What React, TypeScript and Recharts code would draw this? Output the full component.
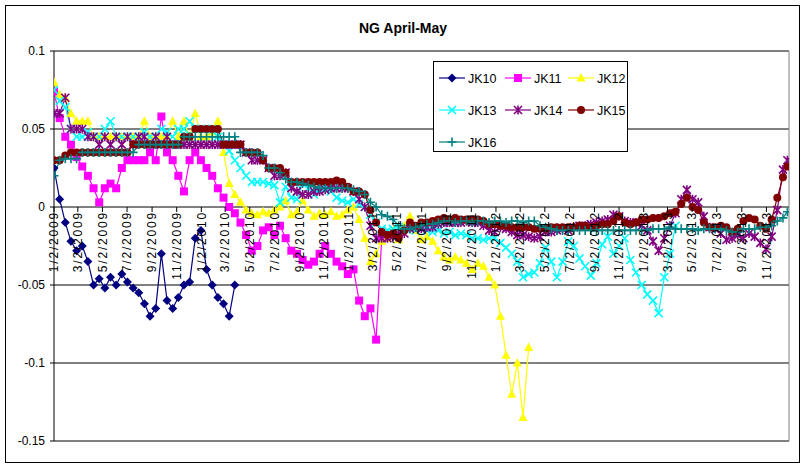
import React from 'react';
import { LineChart, Line, XAxis, YAxis, CartesianGrid, ReferenceLine, Legend } from 'recharts';

const dates = [
  '2009-01-02','2009-01-16','2009-01-30','2009-02-13','2009-02-27','2009-03-13','2009-03-27','2009-04-10','2009-04-24','2009-05-08',
  '2009-05-22','2009-06-05','2009-06-19','2009-07-03','2009-07-17','2009-07-31','2009-08-14','2009-08-28','2009-09-11','2009-09-25',
  '2009-10-09','2009-10-23','2009-11-06','2009-11-20','2009-12-04','2009-12-18',
  '2010-01-01','2010-01-15','2010-01-29','2010-02-12','2010-02-26','2010-03-12','2010-03-26','2010-04-09','2010-04-23','2010-05-07',
  '2010-05-21','2010-06-04','2010-06-18','2010-07-02','2010-07-16','2010-07-30','2010-08-13','2010-08-27','2010-09-10','2010-09-24',
  '2010-10-08','2010-10-22','2010-11-05','2010-11-19','2010-12-03','2010-12-17','2010-12-31',
  '2011-01-14','2011-01-28','2011-02-11','2011-02-25','2011-03-11','2011-03-25','2011-04-08','2011-04-22','2011-05-06','2011-05-20',
  '2011-06-03','2011-06-17','2011-07-01','2011-07-15','2011-07-29','2011-08-12','2011-08-26','2011-09-09','2011-09-23','2011-10-07',
  '2011-10-21','2011-11-04','2011-11-18','2011-12-02','2011-12-16','2011-12-30',
  '2012-01-13','2012-01-27','2012-02-10','2012-02-24','2012-03-09','2012-03-23','2012-04-06','2012-04-20','2012-05-04','2012-05-18',
  '2012-06-01','2012-06-15','2012-06-29','2012-07-13','2012-07-27','2012-08-10','2012-08-24','2012-09-07','2012-09-21','2012-10-05',
  '2012-10-19','2012-11-02','2012-11-16','2012-11-30','2012-12-14','2012-12-28',
  '2013-01-11','2013-01-25','2013-02-08','2013-02-22','2013-03-08','2013-03-22','2013-04-05','2013-04-19','2013-05-03','2013-05-17',
  '2013-05-31','2013-06-14','2013-06-28','2013-07-12','2013-07-26','2013-08-09','2013-08-23','2013-09-06','2013-09-20','2013-10-04',
  '2013-10-18','2013-11-01','2013-11-15','2013-11-29','2013-12-13','2013-12-24',
];

const tickLabels = [
  '1/2/2009','3/2/2009','5/2/2009','7/2/2009','9/2/2009','11/2/2009',
  '1/2/2010','3/2/2010','5/2/2010','7/2/2010','9/2/2010','11/2/2010',
  '1/2/2011','3/2/2011','5/2/2011','7/2/2011','9/2/2011','11/2/2011',
  '1/2/2012','3/2/2012','5/2/2012','7/2/2012','9/2/2012','11/2/2012',
  '1/2/2013','3/2/2013','5/2/2013','7/2/2013','9/2/2013','11/2/2013',
];

const yTicks = [-0.15, -0.1, -0.05, 0, 0.05, 0.1];
const xDomainStart = '2009-01-02';
const xDomainEnd = '2013-12-28';

const jk10 = [
  0.025, 0.005, -0.01, -0.022, -0.028, -0.025, -0.035, -0.05, -0.046, -0.052,
  -0.045, -0.05, -0.043, -0.048, -0.052, -0.055, -0.062, -0.07, -0.065, -0.03,
  -0.06, -0.065, -0.058, -0.05, -0.048, -0.02, -0.015, -0.04, -0.05, -0.058,
  -0.062, -0.07, -0.05,
];

const jk11 = [
  0.074, 0.057, 0.045, 0.04, 0.032, 0.026, 0.02, 0.012, 0.003, 0.012,
  0.015, 0.012, 0.025, 0.03, 0.03, 0.03, 0.03, 0.035, 0.03, 0.058,
  0.035, 0.03, 0.02, 0.01, 0.03, 0.035, 0.03, 0.025, 0.02, 0.012,
  0.006, 0.0, -0.004, -0.01, -0.018, -0.028, -0.025, -0.015, -0.013, -0.018,
  -0.012, -0.02, -0.028, -0.03, -0.034, -0.037, -0.035, -0.03, -0.025, -0.03,
  -0.035, -0.038, -0.043, -0.04, -0.06, -0.07, -0.065, -0.085, -0.02,
];

const jk12 = [
  0.08, 0.072, 0.07, 0.06, 0.055, 0.055, 0.055, 0.045, 0.045, 0.045,
  0.045, 0.045, 0.045, 0.045, 0.045, 0.045, 0.055, 0.045, 0.045, 0.045,
  0.045, 0.055, 0.045, 0.055, 0.045, 0.06, 0.045, 0.045, 0.048, 0.055,
  0.035, 0.015, 0.008, 0.003, -0.002, -0.004, -0.005, -0.003, -0.004, -0.002,
  0.0, 0.004, -0.005, -0.003, 0.004, -0.002, -0.006, -0.004, -0.005, -0.003,
  -0.006, -0.005, -0.002, 0.0, -0.008, -0.02, -0.035, -0.03, -0.022, -0.02,
  -0.015, -0.021, -0.012, -0.006, -0.015, -0.021, -0.019, -0.022, -0.028, -0.032,
  -0.034, -0.032, -0.034, -0.036, -0.04, -0.036, -0.038, -0.045, -0.05, -0.07,
  -0.095, -0.12, -0.1, -0.135, -0.09,
];

const jk13 = [
  0.075, 0.068, 0.064, 0.05, 0.045, 0.045, 0.048, 0.045, 0.045, 0.05,
  0.055, 0.045, 0.045, 0.045, 0.045, 0.045, 0.048, 0.045, 0.045, 0.05,
  0.048, 0.045, 0.05, 0.05, 0.055, 0.05, 0.05, 0.05, 0.05, 0.045,
  0.04, 0.036, 0.03, 0.025, 0.02, 0.016, 0.016, 0.016, 0.015, 0.014,
  0.003, 0.013, 0.006, 0.005, 0.015, 0.012, 0.008, 0.014, 0.012, 0.01,
  0.006, 0.004, 0.003, 0.005, 0.002, 0.0, -0.005, -0.01, -0.014, -0.015,
  -0.014, -0.013, -0.014, -0.013, -0.015, -0.014, -0.015, -0.016, -0.015, -0.017,
  -0.016, -0.018, -0.017, -0.018, -0.02, -0.02, -0.021, -0.02, -0.02, -0.023,
  -0.026, -0.03, -0.035, -0.045, -0.043, -0.042, -0.036, -0.026, -0.035, -0.045,
  -0.035, -0.022, -0.025, -0.033, -0.038, -0.044, -0.036, -0.024, -0.019, -0.03,
  -0.025, -0.02, -0.034, -0.042, -0.05, -0.056, -0.06, -0.068, -0.045, -0.03,
  -0.012,
];

const jk14 = [
  0.06, 0.06, 0.07, 0.05, 0.05, 0.05, 0.045, 0.045, 0.04, 0.045,
  0.04, 0.045, 0.04, 0.045, 0.04, 0.045, 0.045, 0.04, 0.045, 0.04,
  0.045, 0.04, 0.04, 0.04, 0.04, 0.04, 0.04, 0.04, 0.04, 0.04,
  0.04, 0.04, 0.04, 0.04, 0.035, 0.03, 0.03, 0.03, 0.025, 0.02,
  0.02, 0.022, 0.012, 0.01, 0.008, 0.008, 0.01, 0.01, 0.011, 0.012,
  0.012, 0.012, 0.012, 0.01, 0.005, 0.0, -0.012, -0.02, -0.02, -0.02,
  -0.019, -0.017, -0.017, -0.014, -0.013, -0.014, -0.013, -0.013, -0.011, -0.01,
  -0.01, -0.01, -0.01, -0.009, -0.01, -0.01, -0.012, -0.015, -0.016, -0.013,
  -0.014, -0.016, -0.018, -0.018, -0.019, -0.02, -0.019, -0.016, -0.016, -0.015,
  -0.014, -0.015, -0.013, -0.012, -0.012, -0.011, -0.01, -0.009, -0.008, -0.005,
  -0.006, -0.009, -0.01, -0.01, -0.012, -0.015, -0.022, -0.028, -0.02, -0.012,
  -0.004, 0.005, 0.011, 0.005, 0.003, -0.006, -0.013, -0.014, -0.017, -0.021,
  -0.02, -0.018, -0.02, -0.017, -0.019, -0.023, -0.027, -0.019, -0.002, 0.024,
  0.03,
];

const jk15 = [
  0.03, 0.03, 0.033, 0.035, 0.035, 0.035, 0.035, 0.035, 0.035, 0.035,
  0.035, 0.035, 0.035, 0.035, 0.04, 0.04, 0.04, 0.04, 0.04, 0.04,
  0.04, 0.04, 0.04, 0.045, 0.045, 0.05, 0.05, 0.05, 0.05, 0.05,
  0.04, 0.04, 0.04, 0.04, 0.035, 0.035, 0.035, 0.03, 0.025, 0.025,
  0.025, 0.022, 0.016, 0.016, 0.016, 0.016, 0.016, 0.016, 0.016, 0.016,
  0.017, 0.016, 0.013, 0.01, 0.01, 0.008, -0.002, -0.01, -0.016, -0.018,
  -0.017, -0.02, -0.015, -0.01, -0.012, -0.01, -0.01, -0.009, -0.008, -0.007,
  -0.008, -0.007, -0.008, -0.008, -0.008, -0.008, -0.009, -0.011, -0.011, -0.012,
  -0.012, -0.013, -0.013, -0.013, -0.013, -0.014, -0.014, -0.014, -0.013, -0.013,
  -0.013, -0.013, -0.013, -0.012, -0.012, -0.013, -0.012, -0.011, -0.011, -0.009,
  -0.006, -0.01, -0.011, -0.01, -0.008, -0.008, -0.007, -0.007, -0.006, -0.004,
  -0.003, 0.002, 0.006, 0.0, -0.002, -0.01, -0.013, -0.013, -0.012, -0.013,
  -0.016, -0.014, -0.009, -0.007, -0.008, -0.012, -0.014, -0.008, 0.006, 0.019,
  0.026,
];

const jk16 = [
  0.02, 0.03, 0.031, 0.031, 0.031, 0.035, 0.035, 0.035, 0.035, 0.035,
  0.035, 0.035, 0.035, 0.035, 0.035, 0.04, 0.04, 0.04, 0.04, 0.04,
  0.04, 0.04, 0.04, 0.045, 0.045, 0.045, 0.045, 0.045, 0.045, 0.045,
  0.045, 0.045, 0.045, 0.035, 0.035, 0.035, 0.035, 0.033, 0.025, 0.025,
  0.022, 0.018, 0.016, 0.016, 0.015, 0.014, 0.013, 0.012, 0.012, 0.012,
  0.012, 0.012, 0.012, 0.011, 0.01, 0.008, 0.003, 0.0, -0.005, -0.006,
  -0.008, -0.012, -0.014, -0.014, -0.013, -0.012, -0.011, -0.011, -0.01, -0.009,
  -0.009, -0.01, -0.009, -0.009, -0.01, -0.009, -0.009, -0.01, -0.009, -0.009,
  -0.01, -0.009, -0.009, -0.01, -0.009, -0.009, -0.012, -0.013, -0.014, -0.015,
  -0.015, -0.015, -0.015, -0.015, -0.015, -0.015, -0.015, -0.015, -0.015, -0.015,
  -0.015, -0.015, -0.015, -0.015, -0.015, -0.015, -0.014, -0.014, -0.014, -0.013,
  -0.014, -0.014, -0.014, -0.014, -0.015, -0.014, -0.014, -0.014, -0.014, -0.015,
  -0.016, -0.016, -0.014, -0.014, -0.014, -0.013, -0.013, -0.012, -0.009, -0.007,
  -0.003,
];

const FONT = '"Liberation Sans", Arial, sans-serif';
const W = 806;
const H = 467;
const MARGIN = { top: 51, right: 17, bottom: 0, left: 0 };
const Y_AXIS_W = 54;
const X_AXIS_H = 26;
const PLOT_TOP = MARGIN.top;
const PLOT_H = H - MARGIN.top - MARGIN.bottom - X_AXIS_H;
const Y_MIN = yTicks[0];
const Y_MAX = yTicks[yTicks.length - 1];

const isoTs = (s: string) => {
  const [y, m, d] = s.split('-').map(Number);
  return Date.UTC(y, m - 1, d);
};
const mdyTs = (s: string) => {
  const [m, d, y] = s.split('/').map(Number);
  return Date.UTC(y, m - 1, d);
};

const seriesDefs = [
  { key: 'JK10', values: jk10, color: '#000080', shape: 'diamond' },
  { key: 'JK11', values: jk11, color: '#FF00FF', shape: 'square' },
  { key: 'JK12', values: jk12, color: '#FFFF00', shape: 'triangle' },
  { key: 'JK13', values: jk13, color: '#00FFFF', shape: 'x' },
  { key: 'JK14', values: jk14, color: '#800080', shape: 'star' },
  { key: 'JK15', values: jk15, color: '#800000', shape: 'circle' },
  { key: 'JK16', values: jk16, color: '#008080', shape: 'plus' },
];

const data = dates.map((d, i) => {
  const row: Record<string, number | null> = { t: isoTs(d) };
  seriesDefs.forEach((s) => {
    row[s.key] = i < s.values.length ? s.values[i] : null;
  });
  return row;
});

const xTicks = tickLabels.map(mdyTs);
const labelByTs = new Map<number, string>(tickLabels.map((l) => [mdyTs(l), l]));

function Marker({ shape, cx, cy, color }: { shape: string; cx: number; cy: number; color: string }) {
  switch (shape) {
    case 'diamond':
      return <polygon points={`${cx},${cy - 4.5} ${cx + 4.5},${cy} ${cx},${cy + 4.5} ${cx - 4.5},${cy}`} fill={color} />;
    case 'square':
      return <rect x={cx - 4} y={cy - 4} width={8} height={8} fill={color} />;
    case 'triangle':
      return <polygon points={`${cx},${cy - 5} ${cx + 4.5},${cy + 3.5} ${cx - 4.5},${cy + 3.5}`} fill={color} />;
    case 'x':
      return (
        <path
          d={`M${cx - 4},${cy - 4}L${cx + 4},${cy + 4}M${cx - 4},${cy + 4}L${cx + 4},${cy - 4}`}
          stroke={color}
          strokeWidth={1.6}
        />
      );
    case 'star':
      return (
        <path
          d={`M${cx - 4},${cy - 4}L${cx + 4},${cy + 4}M${cx - 4},${cy + 4}L${cx + 4},${cy - 4}M${cx},${cy - 4.5}L${cx},${cy + 4.5}`}
          stroke={color}
          strokeWidth={1.6}
        />
      );
    case 'circle':
      return <circle cx={cx} cy={cy} r={4} fill={color} />;
    case 'plus':
    default:
      return (
        <path d={`M${cx - 4.5},${cy}L${cx + 4.5},${cy}M${cx},${cy - 4.5}L${cx},${cy + 4.5}`} stroke={color} strokeWidth={1.6} />
      );
  }
}

const makeDot = (shape: string, color: string) => (p: any) => {
  if (p == null || p.cx == null || p.cy == null || p.value == null || Number.isNaN(p.cy)) {
    return <g key={`e-${p?.index}`} />;
  }
  return (
    <g key={`m-${p.index}`}>
      <Marker shape={shape} cx={p.cx} cy={p.cy} color={color} />
    </g>
  );
};

const XTick = (props: any) => {
  const { x, payload } = props;
  const zeroY = PLOT_TOP + ((Y_MAX - 0) / (Y_MAX - Y_MIN)) * PLOT_H;
  const label = labelByTs.get(payload.value) ?? '';
  return (
    <g>
      <line x1={x} x2={x} y1={zeroY} y2={zeroY + 5} stroke="#000" />
      <text
        transform={`translate(${x},${zeroY + 4}) rotate(-90)`}
        textAnchor="end"
        dy="0.35em"
        fontSize={12}
        fontFamily={FONT}
        letterSpacing={1.8}
        fill="#000"
      >
        {label}
      </text>
    </g>
  );
};

const LEG_COLS = [6, 72, 135];
const LEG_ROWS = [17, 49, 81];

const LegendBox = () => (
  <svg width={195} height={91} style={{ display: 'block' }}>
    <rect x={0.5} y={0.5} width={194} height={90} fill="#fff" stroke="#000" />
    {seriesDefs.map((s, i) => {
      const lx = LEG_COLS[i % 3];
      const ty = LEG_ROWS[Math.floor(i / 3)];
      return (
        <g key={s.key}>
          <line x1={lx} x2={lx + 26} y1={ty} y2={ty} stroke={s.color} strokeWidth={1.2} />
          <Marker shape={s.shape} cx={lx + 13} cy={ty} color={s.color} />
          <text x={lx + 29} y={ty} dy="0.36em" fontSize={12.5} fontFamily={FONT} fill="#000">
            {s.key}
          </text>
        </g>
      );
    })}
  </svg>
);

export default function App() {
  return (
    <div style={{ position: 'absolute', left: 0, top: 0, width: W, height: H, background: '#fff', fontFamily: FONT }}>
      <div
        style={{
          position: 'absolute',
          left: 5,
          top: 5,
          width: 795,
          height: 458,
          boxSizing: 'border-box',
          border: '1px solid #000',
        }}
      />
      <div
        style={{
          position: 'absolute',
          left: 0,
          top: 20,
          width: W,
          textAlign: 'center',
          fontSize: 14,
          lineHeight: '16px',
          fontWeight: 'bold',
          color: '#000',
        }}
      >
        NG April-May
      </div>
      <div style={{ position: 'absolute', left: 0, top: 0 }}>
        <LineChart width={W} height={H} data={data} margin={MARGIN}>
          <CartesianGrid vertical={false} stroke="#000" strokeWidth={1} />
          <ReferenceLine y={Y_MAX} stroke="#808080" />
          <ReferenceLine y={Y_MIN} stroke="#808080" />
          <ReferenceLine x={isoTs(xDomainEnd)} stroke="#808080" />
          <XAxis
            dataKey="t"
            type="number"
            domain={[isoTs(xDomainStart), isoTs(xDomainEnd)]}
            ticks={xTicks}
            interval={0}
            tick={<XTick />}
            axisLine={false}
            tickLine={false}
            height={X_AXIS_H}
            allowDataOverflow
          />
          <YAxis
            type="number"
            domain={[Y_MIN, Y_MAX]}
            ticks={yTicks}
            interval={0}
            width={Y_AXIS_W}
            tickSize={4}
            tickMargin={5}
            axisLine={{ stroke: '#000' }}
            tickLine={{ stroke: '#000' }}
            tick={{ fill: '#000', fontSize: 12, fontFamily: FONT }}
            tickFormatter={(v: number) => String(v)}
            allowDataOverflow
          />
          <Legend
            layout="horizontal"
            verticalAlign="middle"
            align="center"
            content={() => <LegendBox />}
            wrapperStyle={{ left: 433, top: 61, width: 195, height: 91 }}
          />
          {seriesDefs.map((s) => (
            <Line
              key={s.key}
              dataKey={s.key}
              name={s.key}
              stroke={s.color}
              strokeWidth={1.2}
              dot={makeDot(s.shape, s.color)}
              activeDot={false}
              isAnimationActive={false}
              connectNulls={false}
            />
          ))}
        </LineChart>
      </div>
    </div>
  );
}
